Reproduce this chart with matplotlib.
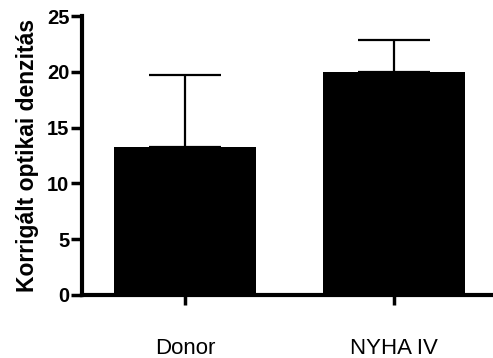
import matplotlib
matplotlib.use("Agg")
import matplotlib.pyplot as plt

groups = ["Donor", "NYHA IV"]
means = [13.3, 20.0]
errors = [6.4, 2.9]

plt.rcParams['font.family'] = ['Liberation Sans', 'DejaVu Sans']

fig = plt.figure(figsize=(4.93, 3.58), dpi=100)
ax = fig.add_axes([0.1663, 0.176, 0.8337, 0.779])

pos = range(len(groups))
ax.bar(pos, means, width=0.68, color='black', zorder=2)
ax.errorbar(pos, means, yerr=[[0] * len(errors), errors], fmt='none',
            ecolor='black', elinewidth=1.6, capsize=26, capthick=1.6, zorder=1)

ax.set_xlim(-0.493, 1.474)
ax.set_ylim(0, 25)
ax.set_yticks([0, 5, 10, 15, 20, 25])
ax.set_xticks(list(pos))
ax.set_xticklabels(groups, fontsize=16)

for s in ['top', 'right']:
    ax.spines[s].set_visible(False)
for s in ['left', 'bottom']:
    ax.spines[s].set_linewidth(3)

ax.tick_params(axis='y', length=8, width=2.5, pad=1, labelsize=14.5)
ax.tick_params(axis='x', length=7, width=2.5, pad=24)
for lbl in ax.get_yticklabels():
    lbl.set_fontweight('bold')

ax.set_ylabel('Korrigált optikai denzitás', fontsize=16.5, fontweight='bold', labelpad=6)

fig.savefig('out.png', dpi=100)
